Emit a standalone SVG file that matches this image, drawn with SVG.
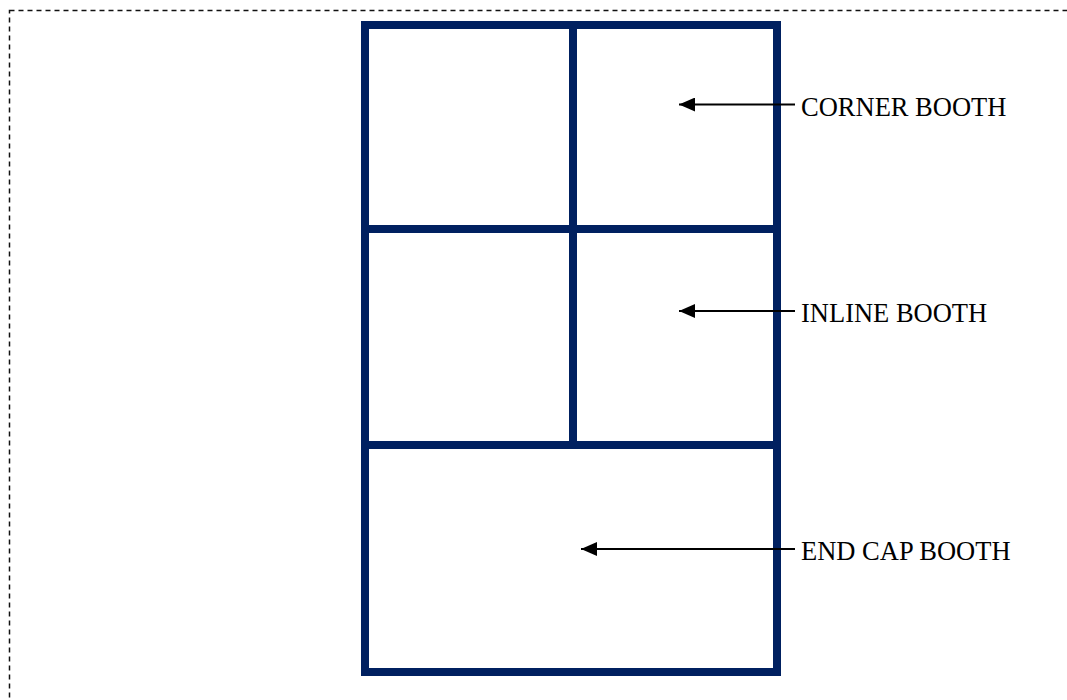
<svg xmlns="http://www.w3.org/2000/svg" width="1067" height="700" viewBox="0 0 1067 700">
<defs>
<style>
.wall{fill:none;stroke:#002060;stroke-width:8}
.div{stroke:#002060;stroke-width:8}
.arr{stroke:#000;stroke-width:2;fill:none;marker-end:url(#ah)}
.lbl{font-family:"Liberation Serif","Times New Roman",serif;font-size:26.5px;fill:#000}
</style>
<marker id="ah" viewBox="0 0 16 14" refX="16" refY="7" markerWidth="16" markerHeight="14" markerUnits="userSpaceOnUse" orient="auto">
<path d="M0,0 L16,7 L0,14 Z" fill="#000"/>
</marker>
</defs>
<rect x="0" y="0" width="1067" height="700" fill="#fff"/>
<rect id="border" x="9.5" y="10.5" width="1100" height="760" fill="none" stroke="#111" stroke-width="1.5" stroke-dasharray="5,4"/>
<g id="booths">
<rect class="wall" x="365" y="25" width="412" height="647"/>
<line class="div" x1="369" y1="229" x2="773" y2="229"/>
<line class="div" x1="369" y1="445" x2="773" y2="445"/>
<line class="div" x1="573" y1="29" x2="573" y2="441"/>
</g>
<g id="connectors">
<line class="arr" x1="795" y1="104.5" x2="679" y2="104.5"/>
<line class="arr" x1="795" y1="311" x2="679" y2="311"/>
<line class="arr" x1="795" y1="549" x2="581" y2="549"/>
</g>
<g id="label-corner"><text class="lbl" x="801" y="116">CORNER BOOTH</text></g>
<g id="label-inline"><text class="lbl" x="801" y="322">INLINE BOOTH</text></g>
<g id="label-endcap"><text class="lbl" x="801" y="559.5">END CAP BOOTH</text></g>
</svg>
